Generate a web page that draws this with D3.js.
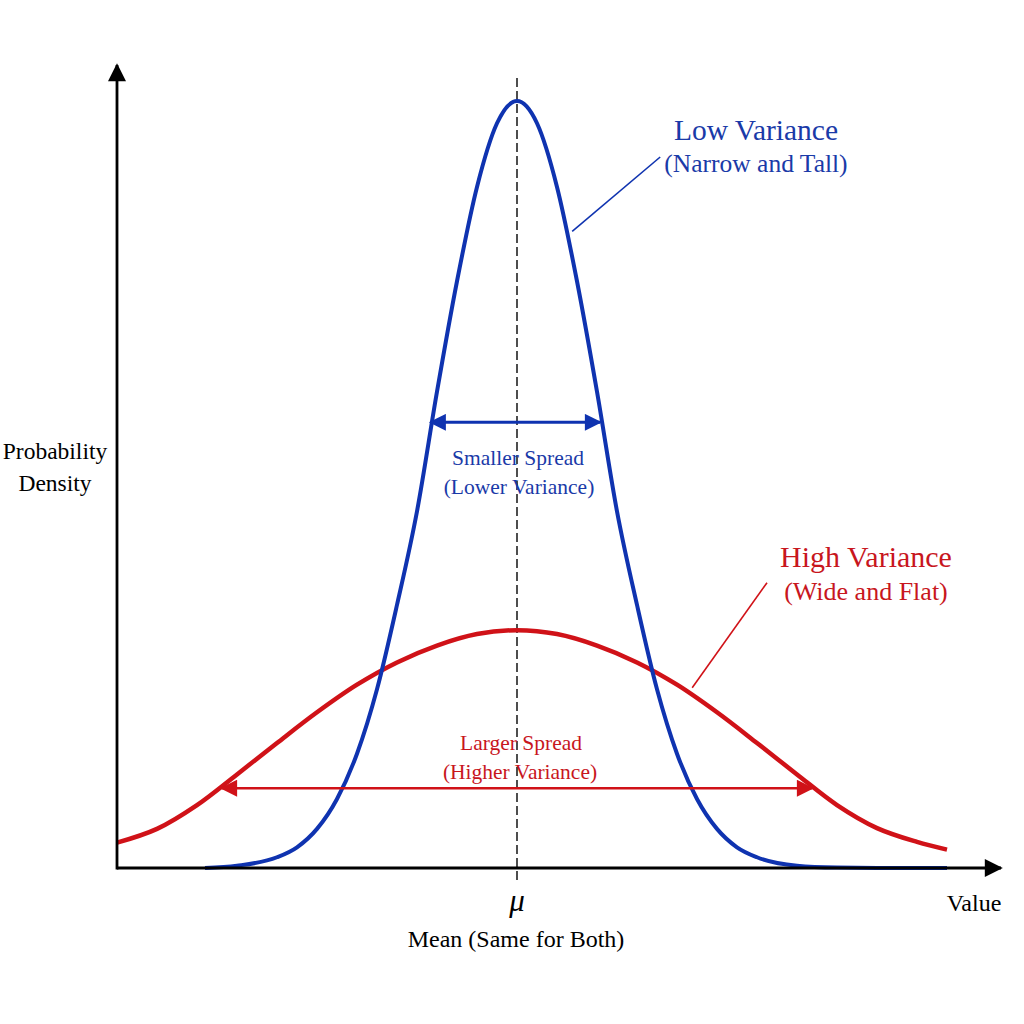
<!DOCTYPE html>
<html>
<head>
<meta charset="utf-8">
<script src="https://cdn.jsdelivr.net/npm/d3@7"></script>
<style>
  body { margin: 0; background: #fff; }
  svg { display: block; }
  text { font-family: "Liberation Serif", "Times New Roman", serif; }
</style>
</head>
<body>
<div id="chart"></div>
<script>
// values: x in value units (mean at 0), y as density (tall peak = 1)
var blueX = [-3.9, -3.5, -3, -2.75, -2.5, -2.25, -2, -1.75, -1.5, -1.25, -1, -0.75, -0.5, -0.25, 0,
             0.25, 0.5, 0.75, 1, 1.25, 1.5, 1.75, 2, 2.25, 2.5, 2.75, 3, 3.5, 4, 4.5, 5.375];
var blueY = [0, 0.003, 0.014, 0.027, 0.051, 0.09, 0.149, 0.233, 0.343, 0.465, 0.621, 0.765, 0.888, 0.971, 1,
             0.971, 0.888, 0.765, 0.621, 0.465, 0.343, 0.233, 0.149, 0.09, 0.051, 0.027, 0.014, 0.003, 0.0005, 0, 0];

var redX = [-5, -4.5, -4, -3.5, -3, -2.5, -2, -1.5, -1, -0.5, 0,
            0.5, 1, 1.5, 2, 2.5, 3, 3.5, 4, 4.5, 5, 5.375];
var redY = [0.033, 0.051, 0.082, 0.122, 0.163, 0.203, 0.239, 0.268, 0.29, 0.305, 0.31,
            0.305, 0.29, 0.268, 0.239, 0.203, 0.163, 0.122, 0.082, 0.052, 0.034, 0.024];

// spread arrows: [x start, x end, y level]
var blueSpread = [-1.08, 1.04, 0.581];
var redSpread = [-3.69, 3.69, 0.104];

var cBlue = "#0f33b0", cRed = "#d01218", cBlueText = "#1a3aa8", cRedText = "#c8161d";

var vWidth = 1024, vHeight = 1024;

var svg = d3.select("#chart")
    .append("svg")
    .attr("width", vWidth)
    .attr("height", vHeight);

var xScale = d3.scaleLinear().domain([-5, 6.05]).range([117, 1001]);
var yScale = d3.scaleLinear().domain([0, 1]).range([868, 101]);

// arrowhead markers
var defs = svg.append("defs");
function addMarker(id, color, len, wid) {
    defs.append("marker")
        .attr("id", id)
        .attr("viewBox", "0 0 10 10")
        .attr("refX", 9)
        .attr("refY", 5)
        .attr("markerUnits", "userSpaceOnUse")
        .attr("markerWidth", len)
        .attr("markerHeight", wid)
        .attr("orient", "auto-start-reverse")
        .append("path")
        .attr("d", "M0,0 L10,5 L0,10 z")
        .attr("fill", color);
}
addMarker("headBlack", "#000", 20, 18);
addMarker("headBlue", cBlue, 21, 17);
addMarker("headRed", cRed, 21, 17);

// mean line
svg.append("line")
    .attr("x1", xScale(0)).attr("x2", xScale(0))
    .attr("y1", yScale(1.03)).attr("y2", yScale(-0.018))
    .attr("stroke", "#222")
    .attr("stroke-width", 1.6)
    .attr("stroke-dasharray", "9,4");

// curves
var blueLine = d3.line()
    .x(function (d) { return xScale(d[0]); })
    .y(function (d) { return yScale(d[1]); })
    .curve(d3.curveMonotoneX);
var redLine = d3.line()
    .x(function (d) { return xScale(d[0]); })
    .y(function (d) { return yScale(d[1]); })
    .curve(d3.curveCatmullRom.alpha(0.5));

svg.append("path")
    .attr("d", redLine(d3.zip(redX, redY)))
    .attr("fill", "none")
    .attr("stroke", cRed)
    .attr("stroke-width", 4.5);

svg.append("path")
    .attr("d", blueLine(d3.zip(blueX, blueY)))
    .attr("fill", "none")
    .attr("stroke", cBlue)
    .attr("stroke-width", 4);

// axes
svg.append("line")
    .attr("x1", xScale(-5)).attr("x2", xScale(6.05))
    .attr("y1", yScale(0)).attr("y2", yScale(0))
    .attr("stroke", "#000").attr("stroke-width", 2.8)
    .attr("marker-end", "url(#headBlack)");
svg.append("line")
    .attr("x1", xScale(-5)).attr("x2", xScale(-5))
    .attr("y1", yScale(0) + 1.4).attr("y2", yScale(1.047))
    .attr("stroke", "#000").attr("stroke-width", 2.8)
    .attr("marker-end", "url(#headBlack)");

// spread arrows
svg.append("line")
    .attr("x1", xScale(blueSpread[0])).attr("x2", xScale(blueSpread[1]))
    .attr("y1", yScale(blueSpread[2])).attr("y2", yScale(blueSpread[2]))
    .attr("stroke", cBlue).attr("stroke-width", 3)
    .attr("marker-start", "url(#headBlue)")
    .attr("marker-end", "url(#headBlue)");
svg.append("line")
    .attr("x1", xScale(redSpread[0])).attr("x2", xScale(redSpread[1]))
    .attr("y1", yScale(redSpread[2])).attr("y2", yScale(redSpread[2]))
    .attr("stroke", cRed).attr("stroke-width", 2.6)
    .attr("marker-start", "url(#headRed)")
    .attr("marker-end", "url(#headRed)");

// leader lines
svg.append("line")
    .attr("x1", xScale(1.79)).attr("y1", yScale(0.927))
    .attr("x2", xScale(0.69)).attr("y2", yScale(0.83))
    .attr("stroke", cBlue).attr("stroke-width", 1.6);
svg.append("line")
    .attr("x1", xScale(3.125)).attr("y1", yScale(0.372))
    .attr("x2", xScale(2.19)).attr("y2", yScale(0.235))
    .attr("stroke", cRed).attr("stroke-width", 1.6);

// labels
function label(txt, xPos, yPos, size, color, extra) {
    var t = svg.append("text")
        .attr("x", xPos).attr("y", yPos)
        .attr("text-anchor", "middle")
        .attr("font-size", size)
        .attr("fill", color)
        .text(txt);
    if (extra) extra(t);
    return t;
}

label("Low Variance", 756, 140, 29.5, cBlueText);
label("(Narrow and Tall)", 756, 172, 25.5, cBlueText);
label("High Variance", 866, 567, 30, cRedText);
label("(Wide and Flat)", 866, 600, 26, cRedText);
label("Smaller Spread", 518, 465, 21.5, cBlueText);
label("(Lower Variance)", 519, 494, 21.5, cBlueText);
label("Larger Spread", 521, 750, 21.5, cRedText);
label("(Higher Variance)", 520, 779, 21.5, cRedText);
label("Probability", 55, 459, 23.5, "#000");
label("Density", 55, 491, 23.5, "#000");
label("Value", 974, 911, 24, "#000");
label("Mean (Same for Both)", 516, 947, 24, "#000");
label("\u03bc", xScale(0), 911, 31, "#000", function (t) { t.attr("font-style", "italic"); });
</script>
</body>
</html>
